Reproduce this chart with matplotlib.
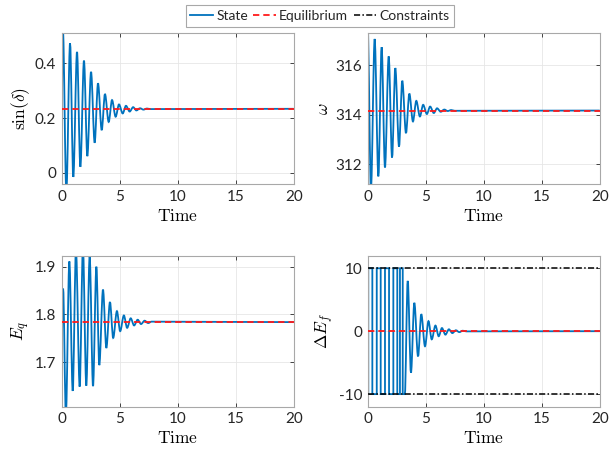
import matplotlib
matplotlib.use("Agg")
import matplotlib.pyplot as plt
from matplotlib.path import Path
from matplotlib.patches import PathPatch
from matplotlib.lines import Line2D

# ---------------- data ----------------
# extrema of each state trajectory (time, value)
sin_t = [0, 0.1, 0.4, 0.72, 1.0, 1.32, 1.61, 1.92, 2.21, 2.53, 2.84, 3.13, 3.45, 3.73,
         4.05, 4.34, 4.65, 4.94, 5.26, 5.54, 5.86, 6.16, 6.44, 6.75, 7.05, 7.35, 7.65, 20]
sin_v = [0.234, 0.53, -0.07, 0.473, -0.015, 0.442, 0.022, 0.41, 0.061, 0.369, 0.11, 0.327,
         0.156, 0.288, 0.186, 0.266, 0.205, 0.25, 0.217, 0.245, 0.224, 0.24, 0.228, 0.236,
         0.231, 0.235, 0.233, 0.234]

w_t = [0, 0.28, 0.6, 0.92, 1.2, 1.49, 1.81, 2.1, 2.38, 2.7, 2.98, 3.3, 3.59, 3.9, 4.19,
       4.5, 4.78, 5.1, 5.38, 5.7, 5.98, 6.3, 6.6, 6.9, 7.2, 7.5, 20]
w_v = [317.5, 311.0, 317.05, 311.52, 316.72, 311.88, 316.35, 312.28, 315.88, 312.72,
       315.37, 313.26, 314.85, 313.73, 314.56, 313.93, 314.4, 314.03, 314.33, 314.07,
       314.26, 314.12, 314.21, 314.15, 314.19, 314.16, 314.17]

eq_t = [0, 0.12, 0.36, 0.66, 0.95, 1.23, 1.55, 1.83, 2.12, 2.41, 2.7, 2.99, 3.24, 3.56,
        3.85, 4.16, 4.44, 4.76, 5.04, 5.36, 5.64, 5.95, 6.24, 6.55, 6.84, 7.15, 7.45,
        7.75, 20]
eq_v = [1.749, 1.854, 1.59, 1.911, 1.64, 1.935, 1.649, 1.94, 1.651, 1.921, 1.65, 1.9,
        1.694, 1.852, 1.73, 1.826, 1.751, 1.807, 1.765, 1.798, 1.772, 1.792, 1.777,
        1.789, 1.780, 1.787, 1.782, 1.785, 1.784]

# saturated (bang-bang) part of the input: switch times and levels
ef_sw_t = [0, 0.05, 0.4, 0.78, 1.12, 1.49, 1.84, 2.21, 2.55, 2.78, 3.02, 3.2]
ef_sw_v = [-10, 10, -10, 10, -10, 10, -10, 10, -10, 10, -10, -10]
# unsaturated part: extrema
ef_t = [3.2, 3.45, 3.73, 4.02, 4.34, 4.62, 4.94, 5.24, 5.52, 5.84, 6.12, 6.4, 6.7,
        7.0, 7.3, 7.6, 7.9, 8.2, 8.5, 20]
ef_v = [-10, 8.0, -6.6, 4.5, -4.0, 2.7, -2.4, 1.6, -1.3, 0.9, -0.8, 0.5, -0.55, 0.3,
        -0.3, 0.15, -0.15, 0.08, -0.03, 0]

sin_eq = 0.234
w_eq = 314.17
eq_eq = 1.784
ef_eq = 0.0
ef_bounds = [-10, 10]

sin_ticks = [0, 0.2, 0.4]
w_ticks = [312, 314, 316]
eq_ticks = [1.7, 1.8, 1.9]
ef_ticks = [-10, 0, 10]
x_ticks = [0, 5, 10, 15, 20]
legend_labels = ["State", "Equilibrium", "Constraints"]

# ---------------- style ----------------
plt.rcParams['mathtext.fontset'] = 'cm'
plt.rcParams['axes.unicode_minus'] = False
plt.rcParams['font.family'] = ['Lato', 'DejaVu Sans']

BLUE = '#0072BD'
TICKC = '#262626'
EDGE = '#a8a8a8'

fig = plt.figure(figsize=(6.16, 4.53), dpi=100)
W, H = 616.0, 453.0
aw, ah = 232 / W, 151 / H
positions = [
    [61.7 / W, 1 - 184.3 / H, aw, ah],
    [367.7 / W, 1 - 184.3 / H, aw, ah],
    [61.7 / W, 1 - 406.7 / H, aw, ah],
    [367.7 / W, 1 - 406.7 / H, aw, ah],
]


def smooth_path(ts, vs, verts=None, codes=None):
    if verts is None:
        verts = [(ts[0], vs[0])]
        codes = [Path.MOVETO]
    for i in range(len(ts) - 1):
        dt = ts[i + 1] - ts[i]
        verts += [(ts[i] + dt / 3, vs[i]), (ts[i + 1] - dt / 3, vs[i + 1]), (ts[i + 1], vs[i + 1])]
        codes += [Path.CURVE4] * 3
    return verts, codes


def style_axes(ax, ylim, yticks, ylabel, ylabelpad=4):
    ax.set_xlim(0, 20)
    ax.set_ylim(*ylim)
    ax.set_xticks(x_ticks)
    ax.set_yticks(yticks)
    ax.set_yticklabels([('%g' % v) for v in yticks])
    ax.tick_params(direction='in', length=3, width=0.6, color=TICKC, labelsize=11,
                   labelcolor=TICKC, top=True, right=True, pad=4)
    for s in ax.spines.values():
        s.set_color(EDGE)
        s.set_linewidth(0.8)
    ax.grid(True, color='#e6e6e6', linewidth=0.6)
    ax.set_axisbelow(True)
    ax.set_xlabel(r'$\mathrm{Time}$', fontsize=12.5, labelpad=3)
    ax.set_ylabel(ylabel, fontsize=12.5, labelpad=ylabelpad)


def add_state(ax, ts, vs):
    verts, codes = smooth_path(ts, vs)
    ax.add_patch(PathPatch(Path(verts, codes), facecolor='none', edgecolor=BLUE,
                           lw=1.3, zorder=2))


def add_eq(ax, val):
    ax.plot([0, 20], [val, val], color='#ff1a1a', ls='--', lw=1.3, dashes=(3.5, 2.2), zorder=3)


axes = [fig.add_axes(p) for p in positions]

ax = axes[0]
add_state(ax, sin_t, sin_v)
add_eq(ax, sin_eq)
style_axes(ax, (-0.042, 0.51), sin_ticks, r'$\sin(\delta)$', 2)

ax = axes[1]
add_state(ax, w_t, w_v)
add_eq(ax, w_eq)
style_axes(ax, (311.2, 317.28), w_ticks, r'$\omega$', 3)

ax = axes[2]
add_state(ax, eq_t, eq_v)
add_eq(ax, eq_eq)
style_axes(ax, (1.607, 1.923), eq_ticks, r'$E_q$', 2)

ax = axes[3]
# saturated part drawn as steps, then smooth part
verts = [(ef_sw_t[0], ef_sw_v[0])]
codes = [Path.MOVETO]
for i in range(1, len(ef_sw_t)):
    verts += [(ef_sw_t[i], ef_sw_v[i - 1]), (ef_sw_t[i], ef_sw_v[i])]
    codes += [Path.LINETO, Path.LINETO]
verts, codes = smooth_path(ef_t, ef_v, verts, codes)
ax.add_patch(PathPatch(Path(verts, codes), facecolor='none', edgecolor=BLUE, lw=1.3, zorder=2))
add_eq(ax, ef_eq)
for b in ef_bounds:
    ax.plot([0, 20], [b, b], color='black', ls='-.', lw=1.1, dashes=(4, 1.5, 1, 1.5), zorder=4)
style_axes(ax, (-12, 12), ef_ticks, r'$\Delta E_f$', 2)

handles = [Line2D([], [], color=BLUE, lw=1.3),
           Line2D([], [], color='#ff1a1a', ls='--', lw=1.3, dashes=(3.5, 2.2)),
           Line2D([], [], color='black', ls='-.', lw=1.1, dashes=(4, 1.5, 1, 1.5))]
leg = fig.legend(handles, legend_labels, loc='upper center', ncol=3,
                 bbox_to_anchor=(320 / W, 1 - 5 / H), fontsize=10, frameon=True,
                 fancybox=False, framealpha=1, edgecolor=EDGE, handlelength=1.6,
                 handletextpad=0.25, columnspacing=0.4, borderpad=0.35,
                 borderaxespad=0)
leg.get_frame().set_linewidth(0.8)
for t in leg.get_texts():
    t.set_color(TICKC)

fig.savefig('out.png', dpi=100)
